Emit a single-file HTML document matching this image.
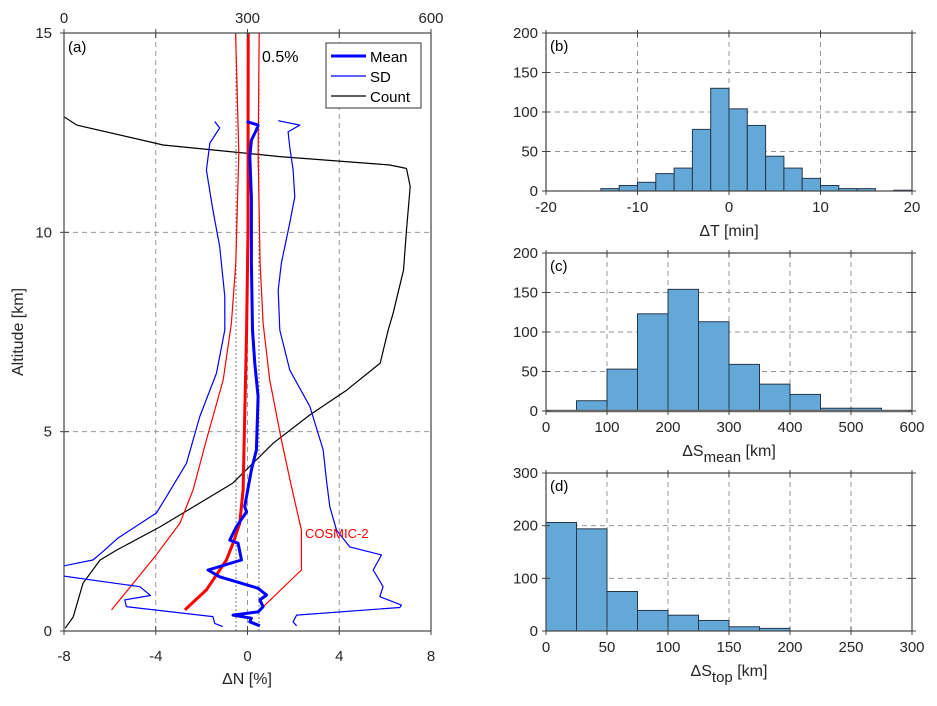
<!DOCTYPE html>
<html><head><meta charset="utf-8"><style>
body{margin:0;background:#fff;}
svg{display:block;font-family:"Liberation Sans",sans-serif;}
</style></head><body>
<svg id="fig" width="937" height="706" viewBox="0 0 937 706" xmlns="http://www.w3.org/2000/svg"></svg>
<script>
// ---- Panel (a) data ----
const countAlt = [12.9,12.69,12.19,11.9,11.69,11.6,11.15,10.06,9.05,7.97,7.55,6.72,6.04,5.42,4.71,4.21,3.71,3.21,2.61,2.03,1.78,1.2,0.35,0.07];
const countVal = [0,21,162,353,533,560,566,560,555,538,530,517,462,402,342,309,276,222,157,86,59,31,15,2];
const sdLAlt = [12.78,12.62,12.24,11.56,10.56,9.64,8.39,7.55,6.47,5.38,4.21,3.37,2.96,2.33,1.99,1.78,1.6,1.4,1.11,0.89,0.78,0.61,0.36,0.19,0.11];
const sdLVal = [-1.43,-1.21,-1.64,-1.79,-1.51,-1.21,-0.99,-0.99,-1.35,-2.08,-2.66,-3.53,-3.97,-5.65,-6.31,-6.74,-8.3,-8.3,-4.69,-4.23,-5.35,-5.28,-1.51,-1.43,-1.08];
const sdRAlt = [12.8,12.69,12.52,12.15,11.56,10.89,10.23,9.23,8.55,7.55,6.55,5.63,4.54,3.79,3.12,2.53,2.11,1.91,1.53,1.11,0.86,0.65,0.59,0.4,0.23,0.13];
const sdRVal = [1.34,2.28,1.77,1.84,1.99,2.06,1.84,1.48,1.34,1.41,1.84,2.72,3.30,3.44,3.59,3.88,4.46,5.84,5.48,5.91,5.77,6.71,6.64,2.14,1.99,2.14];
const meanAlt = [12.78,12.69,12.57,12.31,11.9,10.89,9.23,7.55,6.71,5.88,4.54,4.04,3.12,2.99,2.62,2.28,2.2,1.78,1.53,1.36,1.07,0.9,0.78,0.61,0.48,0.4,0.32,0.23,0.13];
const meanVal = [-0.04,0.46,0.39,0.17,0.1,0.17,0.17,0.22,0.32,0.46,0.39,0.17,-0.12,-0.04,-0.48,-0.77,-0.41,-0.26,-1.72,-1.21,0.46,0.83,0.54,0.68,0.46,-0.63,0.17,0.1,0.54];
const c2MeanAlt = [15,10,7.55,3.54,2.7,2.2,1.78,1.03,0.53];
const c2MeanVal = [0.03,0.02,-0.04,-0.19,-0.34,-0.63,-0.92,-1.79,-2.73];
const c2LAlt = [15,11.98,9.23,7.72,6.3,4.79,3.54,2.7,1.86,0.53];
const c2LVal = [-0.52,-0.38,-0.51,-0.7,-1.06,-1.79,-2.37,-2.95,-4.04,-5.93];
const c2RAlt = [15,11.98,9.23,7.72,6.3,4.79,3.62,2.53,1.53,0.53];
const c2RVal = [0.51,0.46,0.55,0.68,0.97,1.48,1.92,2.35,2.35,0.54];
const aXTicks = [-8,-4,0,4,8];
const aYTicks = [0,5,10,15];
const aTopTicks = [0,300,600];
// ---- Histograms ----
const bEdges = [-14,-12,-10,-8,-6,-4,-2,0,2,4,6,8,10,12,14,16,18,20];
const bCounts = [3,7,11,22,29,78,130,104,83,44,29,16,7,3,3,0,1];
const bXTicks = [-20,-10,0,10,20];
const bYTicks = [0,50,100,150,200];
const cEdges = [50,100,150,200,250,300,350,400,450,500,550];
const cCounts = [13,53,123,154,113,59,34,21,3.5,3.5];
const cXTicks = [0,100,200,300,400,500,600];
const cYTicks = [0,50,100,150,200];
const dEdges = [0,25,50,75,100,125,150,175,200];
const dCounts = [206,194,75,39,30,20,8,5];
const dXTicks = [0,50,100,150,200,250,300];
const dYTicks = [0,100,200,300];

const NS='http://www.w3.org/2000/svg';
const svg=document.getElementById('fig');
function mk(tag,attrs,parent){const e=document.createElementNS(NS,tag);for(const k in attrs)e.setAttribute(k,attrs[k]);(parent||svg).appendChild(e);return e;}
function txt(s,x,y,size,anchor,parent,fill){const t=mk('text',{x:x,y:y,'font-size':size,'text-anchor':anchor||'middle',fill:fill||'#262626'},parent);t.textContent=s;return t;}

// Panel (a) axes
const aL=64,aR=431,aT=33,aB=631;
const ax=v=>aL+(v+8)/16*(aR-aL);
const axTop=c=>aL+c/600*(aR-aL);
const ay=h=>aB-h/15*(aB-aT);
const gA=mk('g',{});


const clip=mk('clipPath',{id:'clipA'},gA);mk('rect',{x:aL,y:aT,width:aR-aL,height:aB-aT},clip);
// grid
aXTicks.forEach(v=>{if(v>-8&&v<8){const l=mk('line',{x1:ax(v),x2:ax(v),y1:aT,y2:aB,stroke:'#999','stroke-dasharray':'5,4','stroke-width':1},gA);}});
aYTicks.forEach(v=>{if(v>0&&v<15){const l=mk('line',{x1:aL,x2:aR,y1:ay(v),y2:ay(v),stroke:'#999','stroke-dasharray':'5,4','stroke-width':1},gA);}});
[-0.5,0.5].forEach(v=>{const l=mk('line',{x1:ax(v),x2:ax(v),y1:aT,y2:aB,stroke:'#777','stroke-dasharray':'2,2','stroke-width':1},gA);});
function series(alts,vals,fx,color,w,name){const pts=alts.map((h,i)=>fx(vals[i]).toFixed(1)+','+ay(h).toFixed(1)).join(' ');const p=mk('polyline',{points:pts,fill:'none',stroke:color,'stroke-width':w,'clip-path':'url(#clipA)','stroke-linejoin':'round'},gA);return p;}
series(countAlt,countVal,axTop,'#000',1.2,'count-line');
series(c2LAlt,c2LVal,ax,'#f00',1.2,'cosmic2-sd-left');
series(c2RAlt,c2RVal,ax,'#f00',1.2,'cosmic2-sd-right');
series(c2MeanAlt,c2MeanVal,ax,'#f00',3,'cosmic2-mean');
series(sdLAlt,sdLVal,ax,'#00f',1.2,'sd-left');
series(sdRAlt,sdRVal,ax,'#00f',1.2,'sd-right');
series(meanAlt,meanVal,ax,'#00f',3,'mean-line');
// box
const boxA=mk('rect',{x:aL,y:aT,width:aR-aL,height:aB-aT,fill:'none',stroke:'#444','stroke-width':1.2},gA);

aXTicks.forEach(v=>{mk('line',{x1:ax(v),x2:ax(v),y1:aB-5,y2:aB+4,stroke:'#444'},gA);const t=txt((v<0?'-':'')+Math.abs(v),ax(v),661,15,'middle',gA);});
[0,150,300,450,600].forEach(c=>mk('line',{x1:axTop(c),x2:axTop(c),y1:aT-4,y2:aT+5,stroke:'#444'},gA));
aTopTicks.forEach(c=>{const t=txt(String(c),axTop(c),23,15,'middle',gA);});
aYTicks.forEach(v=>{mk('line',{x1:aL-4,x2:aL+5,y1:ay(v),y2:ay(v),stroke:'#444'},gA);const t=txt(String(v),52,ay(v)+5,15,'end',gA);});
let t=txt('ΔN [%]',247,684,16,'middle',gA);
t=txt('Altitude [km]',0,0,16,'middle',gA);t.setAttribute('transform','translate(23,332) rotate(-90)');
t=txt('(a)',68,52,15,'start',gA,'#000');
t=txt('0.5%',262,62,16,'start',gA,'#000');
t=txt('COSMIC-2',305,538,13,'start',gA,'#f00');
// legend
const lg=mk('g',{},gA);
mk('rect',{x:326,y:43,width:95,height:65,fill:'#fff',stroke:'#333','stroke-width':1},lg);
[['Mean',3],['SD',1.2],['Count',1.2]].forEach((e,i)=>{const y=56+i*20;const g=mk('g',{},lg);mk('line',{x1:331,x2:366,y1:y,y2:y,stroke:i<2?'#00f':'#000','stroke-width':e[1]},g);txt(e[0],370,y+6,15,'start',g,'#000');});

// Histogram panels
function hist(name,label,L,R,T,B,xmin,xmax,ymax,edges,counts,xt,yt,xlabel,sub,baseColor){
 const g=mk('g',{});
 const fx=v=>L+(v-xmin)/(xmax-xmin)*(R-L), fy=v=>B-v/ymax*(B-T);
 xt.forEach(v=>{if(v>xmin&&v<xmax)mk('line',{x1:fx(v),x2:fx(v),y1:T,y2:B,stroke:'#999','stroke-dasharray':'5,4'},g);});
 yt.forEach(v=>{if(v>0&&v<ymax)mk('line',{x1:L,x2:R,y1:fy(v),y2:fy(v),stroke:'#999','stroke-dasharray':'5,4'},g);});
 counts.forEach((c,i)=>{if(c<=0)return;const r=mk('rect',{x:fx(edges[i]),y:fy(c),width:fx(edges[i+1])-fx(edges[i]),height:B-fy(c),fill:'#64a8d8',stroke:'#26364a','stroke-width':1},g);});
 mk('rect',{x:L,y:T,width:R-L,height:B-T,fill:'none',stroke:'#444','stroke-width':1.2},g);
 if(baseColor)mk('line',{x1:L,x2:R,y1:B,y2:B,stroke:baseColor,'stroke-width':2.5},g);
 xt.forEach(v=>{mk('line',{x1:fx(v),x2:fx(v),y1:B-4,y2:B+4,stroke:'#444'},g);mk('line',{x1:fx(v),x2:fx(v),y1:T-3,y2:T+4,stroke:'#444'},g);const tt=txt((v<0?'-':'')+Math.abs(v),fx(v),B+21,15,'middle',g);});
 yt.forEach(v=>{mk('line',{x1:L-4,x2:L+4,y1:fy(v),y2:fy(v),stroke:'#444'},g);mk('line',{x1:R-4,x2:R+4,y1:fy(v),y2:fy(v),stroke:'#444'},g);const tt=txt(String(v),L-8,fy(v)+5,15,'end',g);});
 const xl=txt('',(L+R)/2,B+45,16,'middle',g);
 const s1=mk('tspan',{},xl);s1.textContent=xlabel;
 if(sub){const s2=mk('tspan',{dy:6,'font-size':15},xl);s2.textContent=sub;const s3=mk('tspan',{dy:-6},xl);s3.textContent=' [km]';}
 const pl=txt(label,L+4,T+18,15,'start',g,'#000');
}
hist('panel-b','(b)',546,912,33,191,-20,20,200,bEdges,bCounts,bXTicks,bYTicks,'ΔT [min]',null,null);
hist('panel-c','(c)',546,912,253,411,0,600,200,cEdges,cCounts,cXTicks,cYTicks,'ΔS','mean','#666');
hist('panel-d','(d)',546,912,473,631,0,300,300,dEdges,dCounts,dXTicks,dYTicks,'ΔS','top',null);
</script>
</body></html>
